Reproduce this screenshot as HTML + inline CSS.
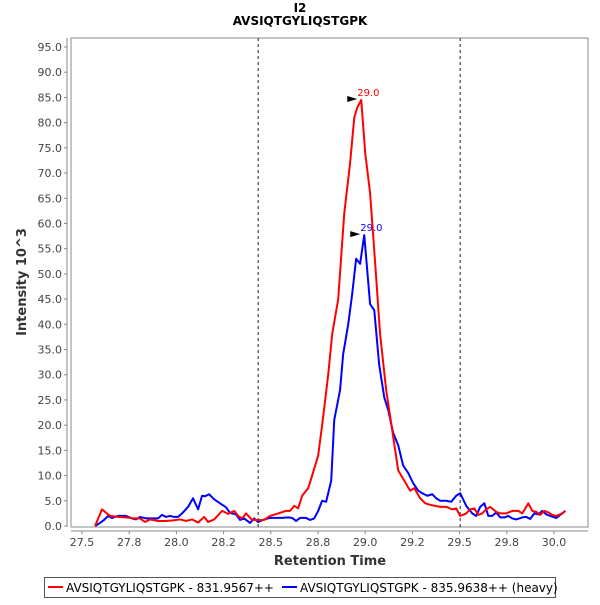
<!DOCTYPE html>
<html><head><meta charset="utf-8"><style>
body{margin:0;background:#fff;width:600px;height:600px;overflow:hidden}
svg text{font-family:"DejaVu Sans","Liberation Sans",sans-serif}
</style></head><body>
<svg id="chart" width="600" height="600" xmlns="http://www.w3.org/2000/svg">
<text x="300" y="12" text-anchor="middle" font-size="12" font-weight="bold">I2</text>
<text x="300" y="25" text-anchor="middle" font-size="12" font-weight="bold">AVSIQTGYLIQSTGPK</text>
<rect x="71" y="38" width="517" height="489" fill="#fff" stroke="#888" stroke-width="1"/>
<g id="yaxis"></g>
<g id="xaxis"></g>
<g id="marks"></g>
<text transform="translate(26,282) rotate(-90)" text-anchor="middle" font-size="13" font-weight="bold" fill="#333">Intensity 10^3</text>
<text x="330" y="565" text-anchor="middle" font-size="13" font-weight="bold" fill="#333">Retention Time</text>
<g>
<rect x="44.5" y="577.5" width="511" height="20" fill="#fff" stroke="#555"/>
<g>
<line x1="48" y1="587" x2="63" y2="587" stroke="#f00" stroke-width="2"/>
<text x="66" y="592" font-size="12">AVSIQTGYLIQSTGPK - 831.9567++</text></g>
<g>
<line x1="282" y1="587" x2="297" y2="587" stroke="#00f" stroke-width="2"/>
<text x="300" y="592" font-size="12">AVSIQTGYLIQSTGPK - 835.9638++ (heavy)</text></g>
</g>
</svg>
<script>
const yTicks=[0,5,10,15,20,25,30,35,40,45,50,55,60,65,70,75,80,85,90,95];
const xTicks=[27.5,27.75,28.0,28.25,28.5,28.75,29.0,29.25,29.5,29.75,30.0];
const xTickLabels=["27.5","27.8","28.0","28.2","28.5","28.8","29.0","29.2","29.5","29.8","30.0"];
const boundaryTimes=[28.433,29.503];
const lightTimes=[27.569,27.606,27.648,27.691,27.733,27.776,27.807,27.834,27.860,27.903,27.940,27.977,28.019,28.051,28.083,28.115,28.147,28.168,28.200,28.242,28.274,28.306,28.327,28.348,28.369,28.401,28.433,28.465,28.496,28.539,28.581,28.602,28.624,28.645,28.666,28.698,28.719,28.751,28.772,28.804,28.825,28.857,28.889,28.920,28.942,28.958,28.979,29.000,29.026,29.053,29.079,29.111,29.143,29.175,29.207,29.238,29.260,29.291,29.318,29.344,29.371,29.397,29.429,29.461,29.482,29.503,29.535,29.556,29.578,29.599,29.620,29.641,29.662,29.694,29.715,29.747,29.779,29.811,29.832,29.864,29.885,29.906,29.927,29.949,29.970,29.991,30.012,30.044,30.060];
const lightValues=[0,3.3,2,1.8,1.7,1.5,1.5,0.8,1.3,1,1,1.1,1.3,1,1.3,0.7,1.8,0.8,1.3,3,2.4,3,2,1.5,2.5,1.2,1.2,1.2,2,2.5,3,3,4,3.5,6,7.5,10,14,20,30,38,45,62,72,81,83,84.5,74,66,52,38,27,19,11,9,7,7.5,5.5,4.5,4.2,4,3.8,3.8,3.3,3.5,2,2.5,3.3,3.5,2.2,2.5,3.3,3.8,2.8,2.5,2.5,3,3,2.5,4.5,3,2.8,2.2,3,2.7,2.2,2,2.5,3];
const heavyTimes=[27.569,27.595,27.617,27.638,27.659,27.691,27.733,27.765,27.786,27.807,27.839,27.871,27.903,27.924,27.945,27.966,27.988,28.009,28.030,28.062,28.088,28.115,28.136,28.152,28.173,28.200,28.231,28.263,28.284,28.316,28.337,28.359,28.390,28.412,28.433,28.465,28.496,28.528,28.560,28.592,28.613,28.634,28.655,28.687,28.708,28.730,28.751,28.772,28.793,28.820,28.836,28.867,28.883,28.910,28.931,28.952,28.973,28.995,29.026,29.048,29.074,29.101,29.122,29.148,29.175,29.201,29.228,29.254,29.281,29.302,29.329,29.355,29.376,29.397,29.429,29.456,29.482,29.503,29.535,29.567,29.588,29.609,29.631,29.652,29.673,29.694,29.715,29.737,29.758,29.779,29.800,29.832,29.853,29.874,29.896,29.917,29.938,29.959,29.980,30.012,30.033,30.060];
const heavyValues=[0,0.6,1.2,2,1.6,2,2,1.5,1.3,1.8,1.5,1.5,1.5,2.2,1.8,2,1.8,1.8,2.5,3.8,5.5,3.3,6,5.9,6.3,5.3,4.5,3.7,2.6,2.3,1.2,1.5,0.6,1.5,0.8,1.3,1.6,1.6,1.6,1.7,1.6,1,1.6,1.6,1.2,1.5,3,5,4.8,9,21,27,34,40,46,53,52,57.7,44,42.8,32,25.5,23,18.5,16,12,10.5,8.5,7,6.5,6,6.3,5.5,5,5,4.8,6,6.5,4,2.5,2,3.8,4.5,2,2,2.7,1.7,1.7,2,1.5,1.3,1.7,1.8,1.4,2.5,2.3,3,2.3,2,1.6,2.2,3];
const peakLabels=["29.0","29.0"];

const NS="http://www.w3.org/2000/svg";
const X=t=>82+(t-27.5)*188.8;
const Y=v=>526-v*5.042;
function mk(tag,attrs,parent){const e=document.createElementNS(NS,tag);for(const k in attrs)e.setAttribute(k,attrs[k]);parent.appendChild(e);return e;}
const ya=document.getElementById('yaxis'),xa=document.getElementById('xaxis'),mg=document.getElementById('marks');
mk('line',{x1:67,y1:38,x2:67,y2:527,stroke:'#888'},ya);
yTicks.forEach(v=>{
  const t=mk('line',{x1:64,y1:Y(v),x2:67,y2:Y(v),stroke:'#888'},ya);
  
  
  const l=mk('text',{x:62,y:Y(v)+4,'text-anchor':'end','font-size':11,fill:'#444'},ya);
  l.textContent=v.toFixed(1);
  
  
});
mk('line',{x1:71,y1:531,x2:588,y2:531,stroke:'#888'},xa);
xTicks.forEach((v,i)=>{
  const t=mk('line',{x1:X(v),y1:531,x2:X(v),y2:534,stroke:'#888'},xa);
  
  
  const l=mk('text',{x:X(v),y:546,'text-anchor':'middle','font-size':11,fill:'#444'},xa);
  l.textContent=xTickLabels[i];
  
  
});
boundaryTimes.forEach(t=>{
  const b=mk('line',{x1:X(t),y1:38,x2:X(t),y2:527,stroke:'#222','stroke-dasharray':'3,3'},mg);
  
  
});
function series(times,vals,color,name,lbl){
  const p=mk('polyline',{points:times.map((t,i)=>X(t)+','+Y(vals[i])).join(' '),fill:'none',stroke:color,'stroke-width':2,'stroke-linejoin':'round'},mg);
  
  
  let mi=0;vals.forEach((v,i)=>{if(v>vals[mi])mi=i;});
  const px=X(times[mi]),py=Y(vals[mi]);
  const tri=mk('polygon',{points:`${px-14},${py-4} ${px-4},${py-1} ${px-14},${py+2}`,fill:'#000'},mg);
  
  
  const tx=mk('text',{x:px-4,y:py-4,'font-size':10,fill:color},mg);
  tx.textContent=lbl;
  
  
}
series(heavyTimes,heavyValues,'#00f','heavy-series',peakLabels[1]);
series(lightTimes,lightValues,'#f00','light-series',peakLabels[0]);
</script>
</body></html>
